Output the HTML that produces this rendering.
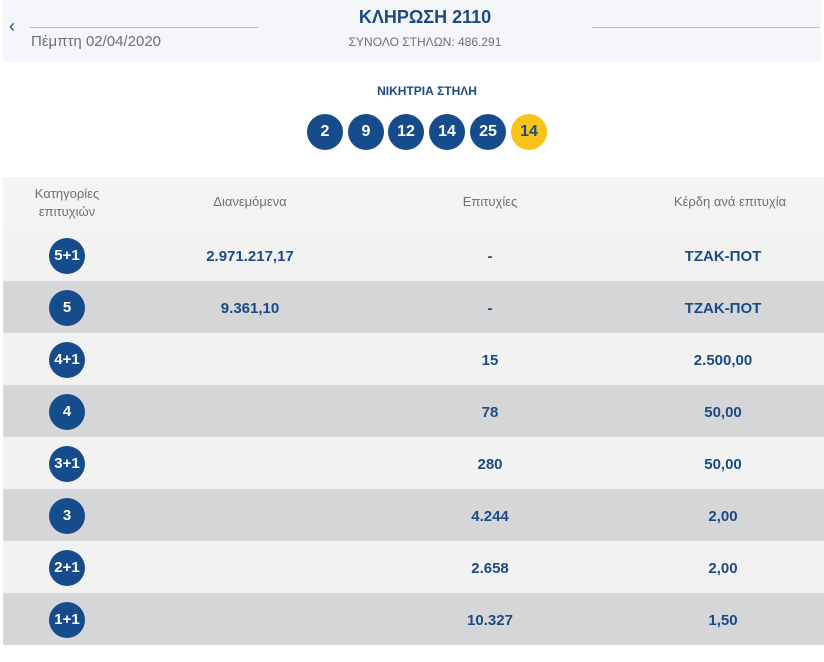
<!DOCTYPE html>
<html><head><meta charset="utf-8"><style>
*{margin:0;padding:0;box-sizing:border-box}
body{width:824px;height:662px;background:#fff;font-family:"Liberation Sans","DejaVu Sans",sans-serif;position:relative;overflow:hidden;color:#1b4a86}
.abs{position:absolute}
.hdr{left:3px;top:0;width:818px;height:62px;background:#f4f6f9}
.line{height:1px;background:#b9bcc2}
.c{position:absolute;text-align:center;transform:translateX(-50%);white-space:nowrap}
.ball{position:absolute;width:36px;height:36px;border-radius:50%;background:#164b8c;color:#fff;font-weight:bold;font-size:16px;line-height:36px;text-align:center}
.row{position:absolute;left:3px;width:821px;height:52px}
.cat{position:absolute;left:46px;top:9px;width:36px;height:36px;border-radius:50%;background:#164b8c;color:#fff;font-weight:bold;font-size:15px;line-height:36px;text-align:center}
.v{position:absolute;top:2px;line-height:52px;font-weight:bold;font-size:15px;transform:translateX(-50%);white-space:nowrap;color:#1b4a86}
.th{position:absolute;color:#6c6f75;font-size:13px;text-align:center;transform:translateX(-50%);white-space:nowrap}
</style></head><body>
<div class="abs hdr"></div>
<div class="abs" style="left:9px;top:16px;font-size:18px;color:#1b4a86">&#8249;</div>
<div class="abs line" style="left:30px;top:27px;width:228px"></div>
<div class="abs line" style="left:592px;top:27px;width:228px"></div>
<div class="abs" style="left:31px;top:33px;font-size:15px;color:#6c6f75">Πέμπτη 02/04/2020</div>
<div class="c" style="left:425px;top:7px;font-size:18px;font-weight:bold;color:#1b4a86">ΚΛΗΡΩΣΗ 2110</div>
<div class="c" style="left:425px;top:35px;font-size:12px;color:#6c6f75">ΣΥΝΟΛΟ ΣΤΗΛΩΝ: 486.291</div>
<div class="c" style="left:427px;top:84px;font-size:12px;font-weight:bold;color:#1b4a86">ΝΙΚΗΤΡΙΑ ΣΤΗΛΗ</div>
<div class="ball" style="left:307px;top:114px">2</div>
<div class="ball" style="left:348px;top:114px">9</div>
<div class="ball" style="left:388px;top:114px">12</div>
<div class="ball" style="left:429px;top:114px">14</div>
<div class="ball" style="left:470px;top:114px">25</div>
<div class="ball" style="left:511px;top:114px;background:#f9c31a;color:#1b4a86">14</div>
<div class="row" style="top:177px;background:#f4f4f4"></div>
<div class="th" style="left:67px;top:185px;line-height:18px">Κατηγορίες<br>επιτυχιών</div>
<div class="th" style="left:250px;top:194px">Διανεμόμενα</div>
<div class="th" style="left:490px;top:194px">Επιτυχίες</div>
<div class="th" style="left:730px;top:194px">Κέρδη ανά επιτυχία</div>

<div class="row" style="top:229px;background:#f2f2f3"><div class="cat">5+1</div><div class="v" style="left:247px">2.971.217,17</div><div class="v" style="left:487px">-</div><div class="v" style="left:720px">ΤΖΑΚ-ΠΟΤ</div></div>
<div class="row" style="top:281px;background:#d5d6d8"><div class="cat">5</div><div class="v" style="left:247px">9.361,10</div><div class="v" style="left:487px">-</div><div class="v" style="left:720px">ΤΖΑΚ-ΠΟΤ</div></div>
<div class="row" style="top:333px;background:#f2f2f3"><div class="cat">4+1</div><div class="v" style="left:487px">15</div><div class="v" style="left:720px">2.500,00</div></div>
<div class="row" style="top:385px;background:#d5d6d8"><div class="cat">4</div><div class="v" style="left:487px">78</div><div class="v" style="left:720px">50,00</div></div>
<div class="row" style="top:437px;background:#f2f2f3"><div class="cat">3+1</div><div class="v" style="left:487px">280</div><div class="v" style="left:720px">50,00</div></div>
<div class="row" style="top:489px;background:#d5d6d8"><div class="cat">3</div><div class="v" style="left:487px">4.244</div><div class="v" style="left:720px">2,00</div></div>
<div class="row" style="top:541px;background:#f2f2f3"><div class="cat">2+1</div><div class="v" style="left:487px">2.658</div><div class="v" style="left:720px">2,00</div></div>
<div class="row" style="top:593px;background:#d5d6d8"><div class="cat">1+1</div><div class="v" style="left:487px">10.327</div><div class="v" style="left:720px">1,50</div></div>
</body></html>
